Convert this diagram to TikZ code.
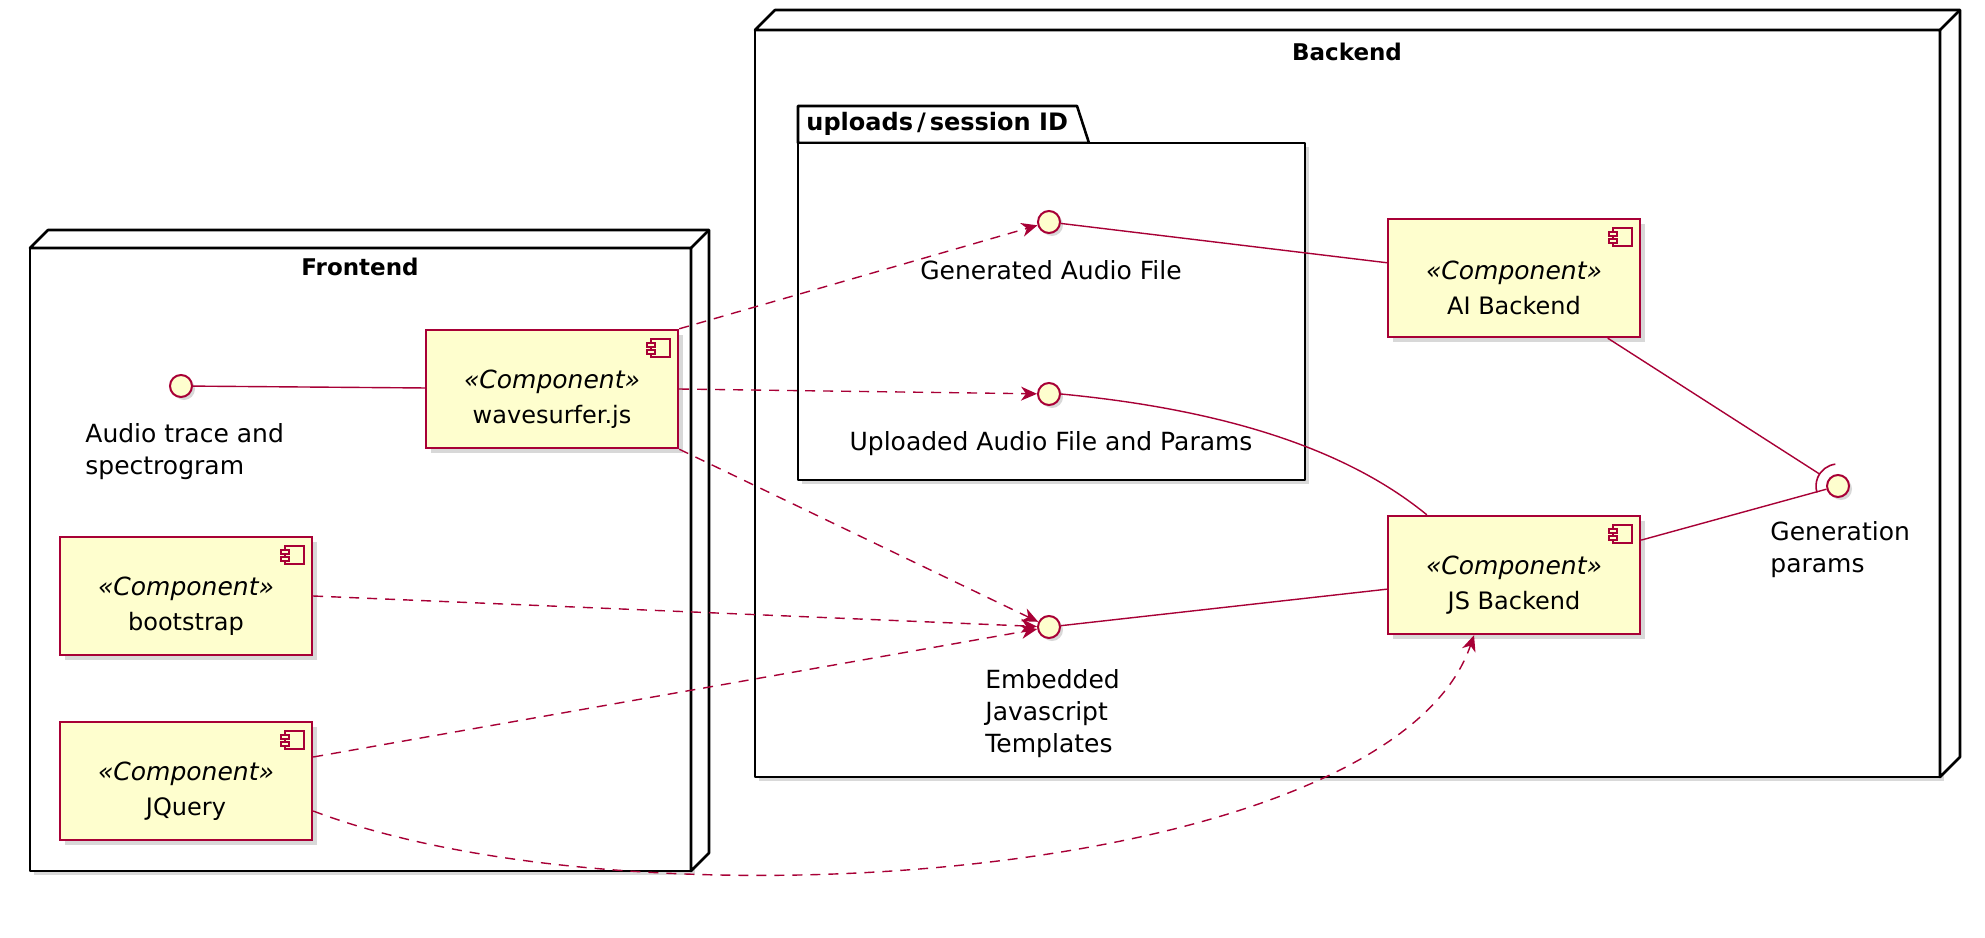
\documentclass[tikz,border=0pt]{standalone}
\usepackage{fontspec}
\setmainfont{DejaVu Sans}
\usetikzlibrary{shadows,arrows.meta,calc}

\definecolor{umlred}{HTML}{A80036}
\definecolor{umlfill}{HTML}{FEFECE}

\tikzset{
  comp/.style={draw=umlred, fill=umlfill, line width=1.2pt, minimum width=126pt, minimum height=59pt,
    align=center, inner sep=2pt, font=\fontsize{12}{17.5}\selectfont,
    drop shadow={opacity=0.3, shadow xshift=2.5pt, shadow yshift=-2.5pt}},
  iface/.style={circle, draw=umlred, fill=umlfill, line width=1pt, minimum size=11pt, inner sep=0pt,
    drop shadow={opacity=0.3, shadow xshift=1.5pt, shadow yshift=-1.5pt}},
  boxline/.style={black, line width=1.3pt, line join=round},
  link/.style={umlred, line width=0.7pt},
  uses/.style={link, dash pattern=on 5pt off 4pt, -{Stealth[length=8pt, width=7pt, inset=2.5pt]}},
  lbl/.style={inner sep=0pt, align=left, font=\fontsize{12.5}{16}\selectfont},
  ttl/.style={font=\fontsize{11.5}{14}\selectfont\bfseries, inner sep=0pt},
}

% little component symbol in the upper right corner of a node
\newcommand{\compicon}[1]{%
  \draw[umlred, line width=0.8pt, fill=umlfill] ([xshift=-14pt,yshift=-5pt]#1.north east) rectangle ([xshift=-4.5pt,yshift=-14pt]#1.north east);
  \draw[umlred, line width=0.8pt, fill=umlfill] ([xshift=-16pt,yshift=-7pt]#1.north east) rectangle ([xshift=-12pt,yshift=-9pt]#1.north east);
  \draw[umlred, line width=0.8pt, fill=umlfill] ([xshift=-16pt,yshift=-10.5pt]#1.north east) rectangle ([xshift=-12pt,yshift=-12.5pt]#1.north east);
}
\newcommand{\compname}[1]{\rule{0pt}{19pt}{\fontsize{12.5}{17.5}\selectfont\itshape «Component»}\\#1}

\begin{document}
\begin{tikzpicture}[x=0.5pt, y=-0.5pt]
  \useasboundingbox (0,0) rectangle (1985,937);

  % Frontend node
  \fill[black, opacity=0.15] (34,252) rectangle (695,875);
  \draw[boxline, fill=white] (30,248) rectangle (691,871);
  \draw[boxline, fill=white] (30,248) -- (48,230) -- (709,230) -- (709,853) -- (691,871) -- (691,248) -- cycle;
  \draw[boxline] (691,248) -- (709,230);
  \node[ttl] (frontend) at (360,267) {Frontend};

  % Backend node
  \fill[black, opacity=0.15] (759,34) rectangle (1944,781);
  \draw[boxline, fill=white] (755,30) rectangle (1940,777);
  \draw[boxline, fill=white] (755,30) -- (775,10) -- (1960,10) -- (1960,757) -- (1940,777) -- (1940,30) -- cycle;
  \draw[boxline] (1940,30) -- (1960,10);
  \node[ttl] (backend) at (1347,52) {Backend};

  % uploads package
  \fill[black, opacity=0.15] (802,147) rectangle (1309,484);
  \draw[boxline, fill=white] (798,143) -- (798,106) -- (1077,106) -- (1089,143) -- cycle;
  \draw[boxline, fill=white] (798,143) rectangle (1305,480);
  \node[ttl, font=\fontsize{12}{15}\selectfont\bfseries, anchor=west] (uploads) at (806,124) {uploads\,/\,session ID};

  % components
  \node[comp] (ws) at (552,389) {\compname{wavesurfer.js}};
  \node[comp] (bs) at (186,596) {\compname{bootstrap}};
  \node[comp] (jq) at (186,781) {\compname{JQuery}};
  \node[comp] (ai) at (1514,278) {\compname{AI Backend}};
  \node[comp] (js) at (1514,575) {\compname{JS Backend}};
  \foreach \c in {ws,bs,jq,ai,js} {\compicon{\c}}

  % interfaces
  \node[iface] (at) at (181,386) {};
  \node[iface] (ga) at (1049,222) {};
  \node[iface] (ua) at (1049,394) {};
  \node[iface] (ejs) at (1049,627) {};
  \node[iface] (gp) at (1838,486) {};

  \node[lbl, anchor=north west] (atl) at (85,423) {Audio trace and\\spectrogram};
  \node[lbl] (gal) at (1051,270) {Generated Audio File};
  \node[lbl] (ual) at (1051,444) {Uploaded Audio File and Params};
  \node[lbl, anchor=north west] (ejsl) at (985,669) {Embedded\\Javascript\\Templates};
  \node[lbl, anchor=north west] (gpl) at (1770,521) {Generation\\params};

  % socket on Generation params
  \coordinate (sock) at ($(gp)+(147:11pt)$);
  \draw[link, line width=0.8pt] ($(gp)+(97:11pt)$) arc[start angle=97, end angle=197, radius=11pt];

  % solid links
  \draw[link] (at) -- (ws);
  \draw[link] (ga) -- (ai);
  \draw[link] (ua.east) .. controls (1250,412) and (1360,460) .. ([xshift=20pt]js.north west);
  \draw[link] (ejs) -- (js);
  \draw[link] (ai) -- (sock);
  \draw[link] (js) -- (gp);

  % dependencies
  \draw[uses] (ws.north east) -- (ga);
  \draw[uses] (ws.east) -- (ua);
  \draw[uses] (ws.south east) -- (ejs);
  \draw[uses] (bs.east) -- (ejs);
  \draw[uses] ([yshift=12pt]jq.east) -- (ejs);
  \draw[uses] ([yshift=-15pt]jq.east) .. controls (640,935) and (1390,880) .. ([xshift=-20pt]js.south);
\end{tikzpicture}
\end{document}
